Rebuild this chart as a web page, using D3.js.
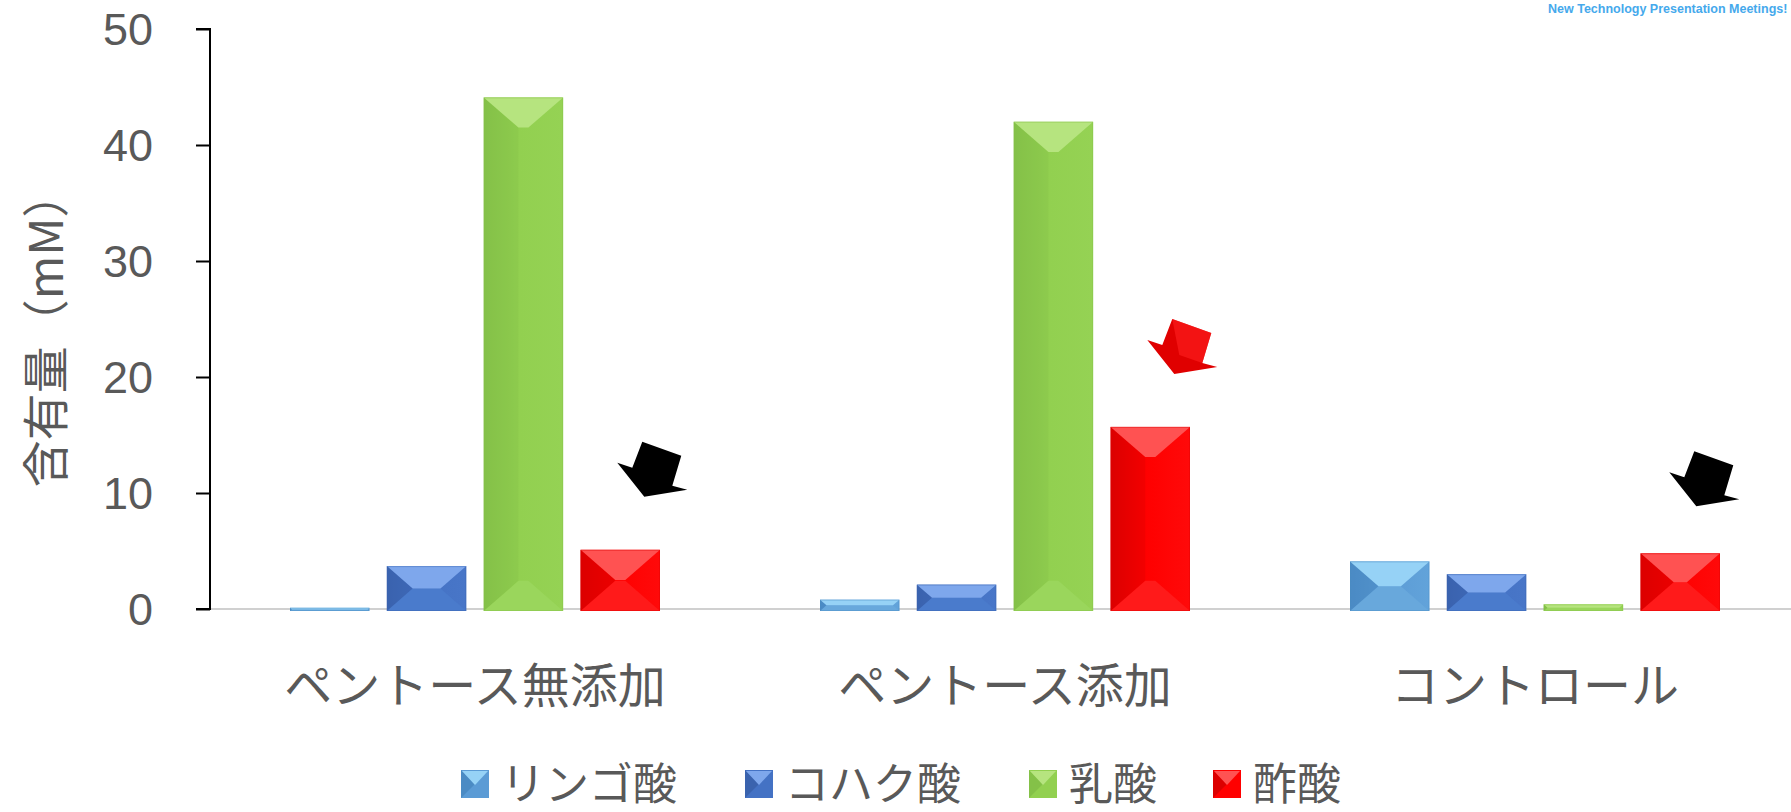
<!DOCTYPE html>
<html><head><meta charset="utf-8">
<script src="https://cdn.jsdelivr.net/npm/d3@7"></script>
<style>html,body{margin:0;padding:0;background:#fff;}svg{display:block;}</style>
</head><body><svg id="c" width="1791" height="812"></svg>
<script>
const categories = ["ペントース無添加", "ペントース添加", "コントロール"];
const seriesNames = ["リンゴ酸", "コハク酸", "乳酸", "酢酸"];
const malic    = [0.1, 0.8, 4.1];
const succinic = [3.7, 2.1, 3.0];
const lactic   = [44.1, 42.0, 0.4];
const acetic   = [5.1, 15.7, 4.8];
const yTicks = [0, 10, 20, 30, 40, 50];
const yTitle = "含有量（mM）";
const arrowCats = ["ペントース無添加", "ペントース添加", "コントロール"];
const arrowColors = ["#000", "#e00000", "#000"];

const seriesValues = [malic, succinic, lactic, acetic];
const palettes = [
  {base:"#5b9bd5", top:"#96d2f6", left:"#4b8bc4", right:"#62a3da", bottom:"#68a8dc"},
  {base:"#4472c4", top:"#7ea7ec", left:"#3a63ae", right:"#4876c8", bottom:"#4a7bcc"},
  {base:"#92d050", top:"#b6e47f", left:"#84c148", right:"#95d254", bottom:"#9ad65c"},
  {base:"#ff0000", top:"#ff5252", left:"#dc0000", right:"#ff0a0a", bottom:"#ff1a1a"}
];

const svg = d3.select("#c");
const defs = svg.append("defs");
palettes.forEach((p, i) => {
  const gr = defs.append("linearGradient").attr("id", "body" + i).attr("x1", 0).attr("x2", 1).attr("y1", 0).attr("y2", 0);
  gr.append("stop").attr("offset", "0%").attr("stop-color", p.left);
  gr.append("stop").attr("offset", "45%").attr("stop-color", p.base);
  gr.append("stop").attr("offset", "100%").attr("stop-color", p.right);
});

const axisX = 210, y0px = 609, y50px = 29;
const y = d3.scaleLinear().domain([0, 50]).range([y0px, y50px]);
const x0 = d3.scaleBand().domain(categories).range([axisX, axisX + 3*530]).padding(0);
const x1 = d3.scaleBand().domain(seriesNames).range([80, 450]).paddingInner(0.18).paddingOuter(0);

const txt = "#595959";
// baseline
svg.append("line").attr("x1", axisX).attr("x2", 1791).attr("y1", y(0)).attr("y2", y(0))
  .attr("stroke", "#d0d0d0").attr("stroke-width", 2);

// bars
const g = svg.append("g");
const P = pts => pts.map(p => p.join(",")).join(" ");
seriesNames.forEach((s, si) => {
  const pal = palettes[si];
  seriesValues[si].forEach((v, ci) => {
    const x = x0(categories[ci]) + x1(s);
    const w = x1.bandwidth();
    const top = y(v), h = y(0) - y(v) + 2;
    const dv = Math.min(0.38 * w, h / 2);
    const dh = Math.min(w / 2, dv * 1.15);
    const bg = g.append("g");
    bg.append("rect").attr("x", x).attr("y", top).attr("width", w).attr("height", h).attr("fill", `url(#body${si})`);
    bg.append("polygon").attr("points", P([[x,top],[x+dh,top+dv],[x+dh,top+h-dv],[x,top+h]])).attr("fill", pal.left).attr("opacity", h > 3*dv ? 0.3 : 0.55);
    bg.append("polygon").attr("points", P([[x,top+h],[x+dh,top+h-dv],[x+w-dh,top+h-dv],[x+w,top+h]])).attr("fill", pal.bottom);
    bg.append("polygon").attr("points", P([[x,top],[x+w,top],[x+w-dh,top+dv],[x+dh,top+dv]])).attr("fill", pal.top);
    bg.append("rect").attr("x", x+0.5).attr("y", top+0.5).attr("width", w-1).attr("height", Math.max(h-1,0))
      .attr("fill", "none").attr("stroke", pal.left).attr("stroke-opacity", 0.4).attr("stroke-width", 1);
  });
});

// y axis
const yAxis = d3.axisLeft(y).tickValues(yTicks).tickSize(14).tickPadding(43);
const ya = svg.append("g").attr("transform", `translate(${axisX},0)`).call(yAxis);
ya.select(".domain").attr("stroke", "#000").attr("stroke-width", 2).attr("d", `M-14,${y(50)}H0V${y(0)}H-14`);
ya.selectAll(".tick line").attr("stroke", "#000").attr("stroke-width", 2);
ya.selectAll(".tick text").attr("fill", txt).attr("font-family", "Liberation Sans, Arial, sans-serif")
  .attr("font-size", 45).attr("dy", "0.35em");

// y title
svg.append("text").attr("transform", `translate(42,${(y(0)+y(50))/2 + 10}) rotate(-90)`)
  .attr("text-anchor", "middle").attr("dominant-baseline", "central")
  .attr("font-family", "Noto Sans CJK JP, sans-serif").attr("font-size", 47).attr("fill", txt).text(yTitle);

// category labels
svg.selectAll("text.cat").data(categories).join("text").attr("class", "cat")
  .attr("x", d => x0(d) + 80 + 185).attr("y", 682)
  .attr("text-anchor", "middle").attr("dominant-baseline", "central")
  .attr("font-family", "Noto Sans CJK JP, sans-serif").attr("font-size", 48).attr("fill", txt).text(d => d);

// arrows (annotation), placed relative to the acetic acid bars
const arrowShape = [[-12,-28],[27,-14],[18,16],[33,20],[-10,27],[-37,-7],[-22,-2]];
const arrowOffsets = [[34, -80], [34, -80], [26, -74]];
arrowCats.forEach((c, i) => {
  const ci = categories.indexOf(c);
  const cx = x0(c) + x1("酢酸") + x1.bandwidth()/2 + arrowOffsets[i][0];
  const cy = y(acetic[ci]) + arrowOffsets[i][1];
  svg.append("polygon").attr("points", arrowShape.map(p => [cx+p[0], cy+p[1]].join(",")).join(" "))
    .attr("fill", arrowColors[i]);
  if (arrowColors[i] !== "#000") {
    svg.append("polygon").attr("points", [[-12,-28],[27,-14],[18,16],[-5,8]].map(p => [cx+p[0], cy+p[1]].join(",")).join(" "))
      .attr("fill", "#ff2020").attr("opacity", 0.6);
  }
});

// legend
const legX = [461, 745, 1029, 1213];
const leg = svg.append("g");
seriesNames.forEach((s, i) => {
  const pal = palettes[i];
  const lx = legX[i], ly = 784, sz = 28;
  leg.append("rect").attr("x", lx).attr("y", ly - sz/2).attr("width", sz).attr("height", sz).attr("fill", pal.base);
  leg.append("polygon").attr("points", P([[lx, ly-sz/2],[lx+sz/2, ly],[lx, ly+sz/2]])).attr("fill", pal.left);
  leg.append("polygon").attr("points", P([[lx+1, ly-sz/2+1],[lx+sz-1, ly-sz/2+1],[lx+sz/2, ly+1]])).attr("fill", pal.top);
  leg.append("text").attr("x", lx + sz + 12).attr("y", ly - 3).attr("dominant-baseline", "central")
    .attr("font-family", "Noto Sans CJK JP, sans-serif").attr("font-size", 44).attr("fill", txt).text(s);
});

// watermark
svg.append("text").attr("x", 1548).attr("y", 13).attr("font-family", "Liberation Sans, Arial, sans-serif")
  .attr("font-weight", "bold").attr("font-size", 12.5).attr("fill", "#45a9ec").text("New Technology Presentation Meetings!");
</script></body></html>
